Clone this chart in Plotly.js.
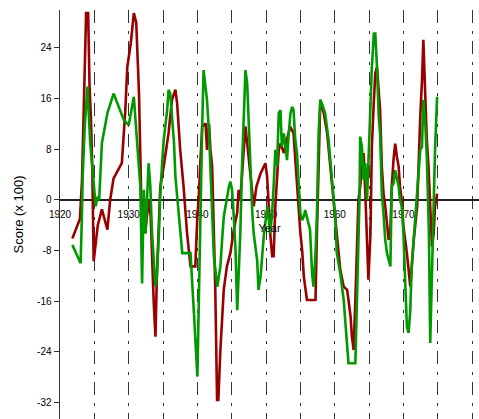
<!DOCTYPE html>
<html>
<head>
<meta charset="utf-8">
<script src="https://cdn.plot.ly/plotly-3.0.1.min.js"></script>
<style>html,body{margin:0;padding:0;background:#fff;}#chart{width:479px;height:419px;}</style>
</head>
<body>
<div id="chart"></div>
<script>
// Red series (traced)
const yearsRed = [1921.8,1922.9,1923.2,1923.4,1923.6,1923.8,1924.1,1924.3,1924.5,1924.7,1924.9,1925.2,1925.5,1926.1,1926.5,1926.9,1927.3,1927.8,1929.0,1929.5,1929.8,1930.3,1930.75,1931.1,1931.5,1931.75,1931.95,1932.2,1932.4,1932.9,1933.2,1933.65,1933.9,1934.1,1934.4,1934.6,1935.1,1935.8,1936.3,1936.8,1937.05,1937.5,1938.0,1938.5,1939.0,1939.7,1940.0,1940.2,1940.45,1940.7,1941.2,1941.4,1941.7,1941.9,1942.15,1942.4,1942.6,1942.87,1943.05,1943.35,1943.84,1944.3,1944.8,1945.3,1945.8,1946.0,1946.25,1946.75,1947.0,1947.2,1947.7,1948.2,1948.6,1948.9,1949.2,1949.9,1950.15,1950.4,1950.6,1950.9,1951.1,1951.35,1951.85,1952.1,1952.3,1952.6,1952.8,1953.05,1953.5,1954.0,1954.5,1955.0,1955.25,1955.5,1955.95,1957.2,1957.4,1957.65,1957.9,1958.4,1958.9,1959.35,1959.8,1960.3,1960.8,1961.3,1961.8,1962.0,1962.3,1962.5,1962.75,1963.0,1963.2,1963.45,1963.7,1963.95,1964.2,1964.45,1964.7,1964.9,1965.2,1965.4,1965.7,1965.9,1966.15,1966.6,1966.85,1967.1,1967.35,1967.6,1967.85,1968.1,1968.3,1968.55,1968.8,1969.05,1969.3,1969.5,1969.75,1970.0,1970.5,1971.0,1971.2,1971.5,1972.0,1972.2,1972.45,1972.7,1972.9,1973.2,1973.4,1973.65,1973.9,1974.15,1974.4,1974.6,1974.9];
const scoreRed = [-6.1,-3,3,13,21,29.5,29.5,18,13,5,-9.7,-7,-4,-1.5,-3,-4.7,0,3.4,5.8,14,21,24.7,29.5,28,16.8,5,-5.8,0,-5.3,0,-2.6,-16.3,-21.6,-12.1,-2.6,2.1,5.3,10.5,15.8,17.4,15.3,7.9,2,-5.3,-10.5,-10.5,-2.6,0.5,6.3,11.6,12.1,7.9,12,7.9,5.3,-5.3,-13.7,-31.6,-31.6,-23.7,-14.2,-10.5,-8.4,-4.7,-2,1.6,0,7.9,11.6,9.5,3.7,-1,2.1,3.2,4.2,5.8,3.7,-1,-5.3,-8.9,-8.9,-1,7.9,8.9,8.4,7.4,8.4,9.5,11.6,10.5,2.1,-5.3,-7.9,-12.1,-15.8,-15.8,-5.3,7.9,15.8,13.7,10.5,5.3,0,-6.3,-11,-13.7,-14.2,-15.8,-18.4,-21.6,-23.7,-15.8,-7.4,0,2.1,5.3,7.4,1,-5.3,-12.6,-5.3,8.4,15.8,20,21,14.2,5.3,1,-1,-4.2,-6.3,-4.7,2.1,6.3,8.9,6.8,5.3,2.1,0,-4.2,-8.4,-13.7,-10.5,-6.3,-1,6.3,13.2,18.9,25.3,15.8,9.5,5.3,-2.6,-7.4,-5.3,-1,1];

// Green series (traced)
const yearsGreen = [1921.8,1923.0,1923.2,1923.3,1923.6,1924.0,1924.4,1924.9,1925.2,1925.45,1925.7,1926.1,1926.9,1927.8,1928.6,1929.3,1930.0,1930.75,1931.2,1931.7,1931.95,1932.2,1932.45,1932.6,1932.9,1933.15,1933.4,1933.9,1934.1,1934.4,1934.6,1934.9,1935.1,1935.6,1935.8,1936.05,1936.3,1936.6,1936.8,1937.3,1937.8,1939.0,1939.2,1939.5,1940.0,1940.2,1940.45,1940.7,1940.9,1941.2,1941.4,1941.7,1942.1,1942.4,1942.9,1943.35,1943.6,1943.85,1944.1,1944.3,1944.6,1944.8,1945.05,1945.3,1945.55,1945.8,1946.0,1946.25,1946.5,1946.75,1947.0,1947.25,1947.5,1947.7,1948.0,1948.2,1948.7,1948.9,1949.2,1949.7,1950.2,1950.6,1950.85,1951.1,1951.35,1951.6,1951.85,1952.1,1952.3,1952.6,1953.05,1953.3,1953.55,1953.8,1954.0,1954.25,1954.5,1954.75,1955.0,1955.25,1955.5,1955.7,1955.95,1956.4,1956.7,1956.9,1957.2,1957.4,1957.65,1957.9,1958.1,1958.6,1959.1,1959.6,1960.1,1960.3,1960.8,1961.3,1961.8,1962.0,1963.0,1963.25,1963.5,1963.6,1963.7,1963.95,1964.2,1964.45,1964.7,1964.95,1965.2,1965.4,1965.7,1965.9,1966.15,1966.4,1966.6,1966.85,1967.1,1967.35,1967.6,1968.1,1968.3,1968.55,1968.8,1969.05,1969.3,1969.5,1969.75,1970.0,1970.25,1970.5,1970.75,1971.0,1971.2,1971.5,1971.7,1971.95,1972.2,1972.45,1972.7,1972.9,1973.2,1973.4,1973.7,1973.9,1974.15,1974.4,1974.6,1974.9];
const scoreGreen = [-7.1,-10,-2,3.7,11.6,17.9,9,2,-1,0.5,0,9,13.7,16.8,14.7,12.6,11.8,16.3,9.5,2,-13.2,1.6,-5.3,-1,5.8,2.1,-5.3,-13.7,-12.1,-5.3,1,6.3,9.5,14.2,17.4,16.8,13.2,9,3.7,-2.1,-8.4,-8.4,-13.2,-17.9,-27.9,-15.8,1,11.6,20.5,17.9,15.8,10.5,0,-8.9,-13.7,-10.5,-6.3,-2.6,-1,0.5,2.1,2.9,1.6,-2.6,-7.9,-17.4,-11.6,-5.3,5.3,13.2,20.5,18.4,10.5,5.3,-2.1,-5.3,-9.5,-14.2,-12.1,-5.3,-1,-5.3,-2.6,2.1,7.9,5.3,13.7,14.2,8.4,10.5,6.3,10.5,13.7,14.7,14.2,9.5,7.4,2.6,-2.1,-3.2,-2.6,-1.6,-2.6,-4.7,-11.6,-13.7,-8.4,-2.6,10.5,15.8,15.3,13.7,9.5,3.2,-3.2,-8.4,-11.6,-15.8,-23.2,-25.8,-25.8,-15.8,-5.3,0,10,8.4,3.2,5.8,0,7.9,13.7,21,26.3,26.3,21,13.2,10.5,1,-2.1,-6.3,-8.4,-10.5,2.1,2.6,4.7,3.2,2.1,0,-1,-5.3,-13.7,-20,-21,-17.4,-10.5,-6.3,-4.2,0,4.2,7.9,8.4,15.8,11.6,6.8,-4.7,-22.6,-10.5,1,7.9,16.3];

const yTicks = [-32,-24,-16,-8,0,8,16,24];
const xTicks = [1920,1930,1940,1950,1960,1970,1980];

const dash = "13px,8px,3px,7px";
const traces = [
  {x: yearsRed, y: scoreRed, type:'scatter', mode:'lines', name:'Red', line:{color:'#990000', width:2.6}},
  {x: yearsGreen, y: scoreGreen, type:'scatter', mode:'lines', name:'Green', line:{color:'#009900', width:2.6}}
];
const layout = {
  width:479, height:419,
  margin:{l:60, r:0, t:10, b:0},
  paper_bgcolor:'#fff', plot_bgcolor:'#fff',
  showlegend:false,
  font:{family:'"Liberation Sans", Arial, sans-serif', color:'#000', size:10},
  xaxis:{
    range:[1920,1981], anchor:'free', position:34.6/64.6,
    tickvals:xTicks, ticktext:xTicks.map(String), ticks:'', showline:false,
    ticklabelstandoff:7,
    showgrid:true, gridcolor:'#333', gridwidth:1, griddash:dash,
    minor:{dtick:5, tick0:1920, showgrid:true, gridcolor:'#333', gridwidth:1, griddash:dash},
    zeroline:false, layer:'below traces',
    tickfont:{size:10},
    title:{text:'Year', font:{size:11}, standoff:5}
  },
  yaxis:{
    range:[-34.6,30], tickvals:yTicks, ticktext:yTicks.map(String),
    ticks:'outside', ticklen:5, tickcolor:'#333', showline:true, linecolor:'#333', linewidth:1.5,
    showgrid:false, zeroline:true, zerolinecolor:'#222', zerolinewidth:1.5,
    tickfont:{size:10},
    title:{text:'Score (x 100)', font:{size:13}, standoff:10}
  }
};
Plotly.newPlot('chart', traces, layout, {displayModeBar:false, staticPlot:true});
</script>
</body>
</html>
